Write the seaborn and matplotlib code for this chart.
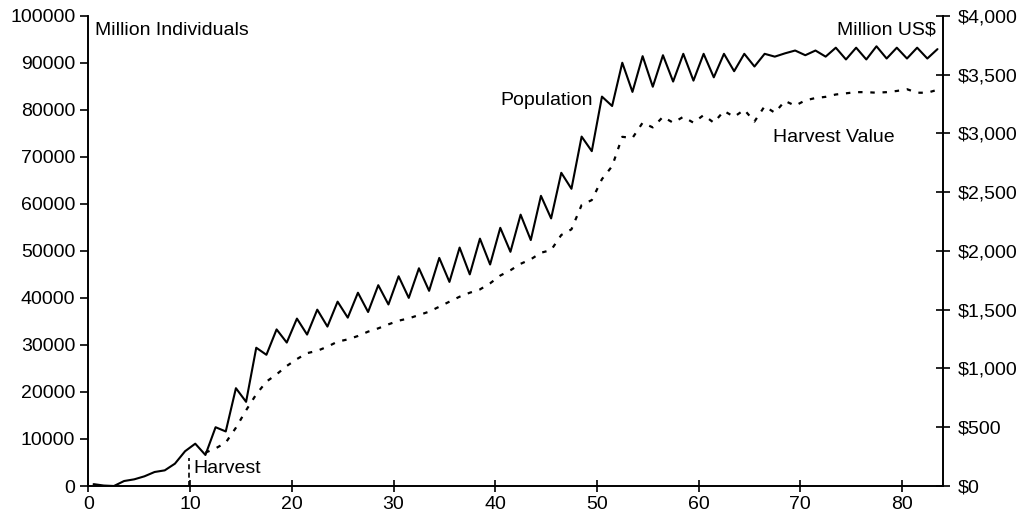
import numpy as np
import pandas as pd
import seaborn as sns
import matplotlib.pyplot as plt
from matplotlib.ticker import FuncFormatter

# time steps (centre of each period)
years = np.arange(84) + 0.5

# population, million individuals
population = [400, 100, 0, 1060, 1420, 2060, 2980, 3330, 4750, 7400,
              9000, 6600, 12500, 11600, 20800, 17900, 29400, 27900, 33300, 30500,
              35600, 32200, 37500, 33900, 39200, 35800, 41100, 37000, 42700, 38600,
              44600, 40000, 46300, 41500, 48500, 43400, 50700, 45000, 52600, 47100,
              54900, 49800, 57700, 52300, 61700, 56900, 66600, 63200, 74300, 71200,
              82800, 80800, 90000, 83800, 91400, 84900, 91600, 86000, 91900, 86200,
              91900, 86900, 91900, 88200, 91900, 89200, 91900, 91300, 92000, 92600,
              91600, 92600, 91300, 93200, 90700, 93200, 90700, 93500, 90900, 93200,
              90900, 93200, 90900, 92900]

# harvest value, million US$ (harvest begins after year 11)
harvest_years = years[11:]
harvest_value = [284, 320, 369, 496, 644, 780, 888, 950, 1021,
                 1080, 1130, 1150, 1185, 1228, 1247, 1276, 1313, 1341, 1375,
                 1406, 1426, 1454, 1483, 1525, 1568, 1610, 1644, 1672, 1724,
                 1790, 1835, 1890, 1928, 1984, 2007, 2135, 2183, 2390, 2432,
                 2610, 2720, 2970, 2960, 3090, 3050, 3140, 3090, 3140, 3090,
                 3155, 3090, 3190, 3140, 3200, 3100, 3230, 3175, 3275, 3235,
                 3280, 3300, 3310, 3330, 3340, 3350, 3350, 3345, 3350, 3360,
                 3375, 3345, 3345, 3370]

harvest_start = 9.9

sns.set_style('ticks')
plt.rcParams['font.family'] = ['Liberation Sans', 'DejaVu Sans']
plt.rcParams['text.color'] = 'black'

fig = plt.figure(figsize=(10.29, 5.24), dpi=100)
ax = fig.add_axes([0.086, 0.0725, 0.830, 0.8975])
ax2 = ax.twinx()

sns.lineplot(x=years, y=population, ax=ax, color='black', linewidth=1.5)
sns.lineplot(x=harvest_years, y=harvest_value, ax=ax2, color='black',
             linewidth=1.6, linestyle=(0, (2, 3.5)))

ax.set_xlim(0, 84)
ax.set_ylim(0, 100000)
ax2.set_ylim(0, 4000)
ax.set_xticks(range(0, 81, 10))
ax.set_yticks(range(0, 100001, 10000))
ax2.set_yticks(range(0, 4001, 500))
ax2.yaxis.set_major_formatter(FuncFormatter(lambda v, p: '${:,.0f}'.format(v)))

for a in (ax, ax2):
    a.spines['top'].set_visible(False)
    for s in a.spines.values():
        s.set_linewidth(1.2)
        s.set_color('black')
    a.tick_params(labelsize=14, colors='black', labelcolor='black', width=1.2)
ax.spines['right'].set_visible(True)
ax.tick_params(axis='x', direction='inout', length=9, pad=3)
ax.tick_params(axis='y', direction='out', length=6)
ax2.tick_params(axis='y', direction='inout', length=10, pad=6)

ax.plot([harvest_start, harvest_start], [0, 6000], color='black',
        linewidth=1.2, linestyle=(0, (3, 2)))

ax.text(0.6, 98700, 'Million Individuals', fontsize=14, ha='left', va='top')
ax.text(83.3, 98700, 'Million US$', fontsize=14, ha='right', va='top')
ax.text(49.6, 81900, 'Population', fontsize=14, ha='right', va='center')
ax.text(67.3, 74200, 'Harvest Value', fontsize=14, ha='left', va='center')
ax.text(10.35, 3800, 'Harvest', fontsize=14, ha='left', va='center')

ax.set_xlabel('')
ax.set_ylabel('')
ax2.set_ylabel('')

fig.savefig('out.png', dpi=100)
